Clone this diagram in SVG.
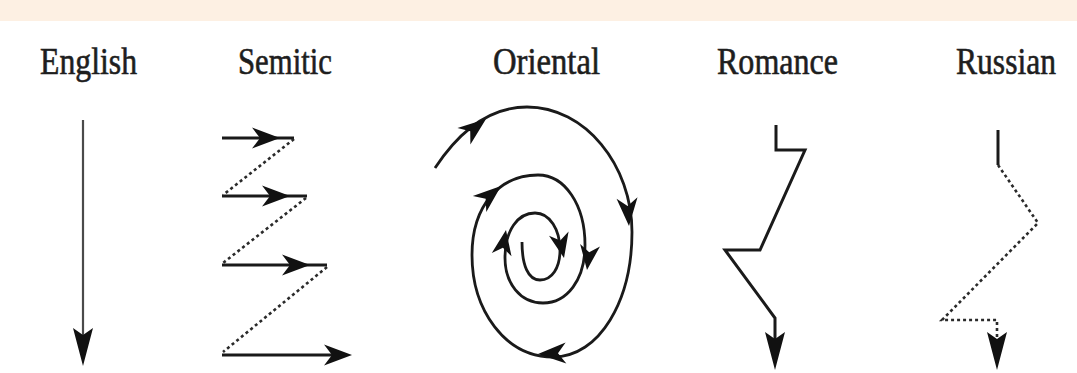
<svg xmlns="http://www.w3.org/2000/svg" xmlns:xlink="http://www.w3.org/1999/xlink" width="1077" height="373" viewBox="0 0 1077 373">
<style>
.lbl{font-family:"Liberation Serif","DejaVu Serif",serif;font-size:37px;fill:#1e1e1e;stroke:#1e1e1e;stroke-width:0.6}
.solid{fill:none;stroke:#1a1a1a;stroke-width:3;stroke-linejoin:miter}
.thin{fill:none;stroke:#4a4a4a;stroke-width:2.2}
.dot{fill:none;stroke:#2a2a2a;stroke-width:2.6;stroke-dasharray:3 3}
.spiral{fill:none;stroke:#1a1a1a;stroke-width:2.8}
.ah{fill:#111}
</style>
<defs>
<path id="ah" d="M0,0 L-28,-10.5 L-20,0 L-28,10.5 Z"/>
<path id="ahs" d="M0,0 L-25,-10 L-18,0 L-25,10 Z"/>
<path id="ahl" d="M0,0 L-38,-10 L-31,0 L-38,10 Z"/>
</defs>
<rect x="0" y="0" width="1077" height="21" fill="#fdf0e3"/>

<g id="english">
<text class="lbl" x="40" y="74" textLength="97" lengthAdjust="spacingAndGlyphs">English</text>
<line class="thin" x1="83" y1="120" x2="83" y2="340"/>
<use href="#ahl" class="ah" transform="translate(83,366) rotate(90)"/>
</g>

<g id="semitic">
<text class="lbl" x="238" y="74" textLength="94" lengthAdjust="spacingAndGlyphs">Semitic</text>
<line class="solid" x1="222" y1="138" x2="294" y2="138"/>
<line class="solid" x1="222" y1="196" x2="307" y2="196"/>
<line class="solid" x1="222" y1="265" x2="327" y2="265"/>
<line class="solid" x1="222" y1="355" x2="335" y2="355"/>
<use href="#ah" class="ah" transform="translate(280,138)"/>
<use href="#ah" class="ah" transform="translate(290,196)"/>
<use href="#ah" class="ah" transform="translate(310,265)"/>
<use href="#ah" class="ah" transform="translate(352,355)"/>
<polyline class="dot" points="294,139 223,195"/>
<polyline class="dot" points="306,198 223,263"/>
<polyline class="dot" points="327,267 223,352"/>
</g>

<g id="oriental">
<text class="lbl" x="493" y="74" textLength="107" lengthAdjust="spacingAndGlyphs">Oriental</text>
<path class="spiral" d="M435,168 C460,130 490,107 527,107 C585,107 632,165 632,232 C632,300 600,357 553,357 C505,357 472,310 472,255 C472,205 500,175 538,175 C565,175 585,205 585,245 C585,280 567,303 543,303 C520,303 505,283 505,258 C505,230 518,213 535,213 C550,213 560,230 560,250 C560,268 552,280 540,280 C528,280 522,265 522,242"/>
<use href="#ah" class="ah" transform="translate(486,119) rotate(-38)"/>
<use href="#ah" class="ah" transform="translate(629,226) rotate(86)"/>
<use href="#ah" class="ah" transform="translate(538,354) rotate(178)"/>
<use href="#ah" class="ah" transform="translate(501,186) rotate(-40)"/>
<use href="#ahs" class="ah" transform="translate(587,270) rotate(97)"/>
<use href="#ahs" class="ah" transform="translate(506,230) rotate(-80)"/>
<use href="#ahs" class="ah" transform="translate(564,258) rotate(78)"/>
</g>

<g id="romance">
<text class="lbl" x="717" y="74" textLength="121" lengthAdjust="spacingAndGlyphs">Romance</text>
<polyline class="solid" points="776,125 776,150 805,150 760,250 725,250 775,318 775,345"/>
<use href="#ahl" class="ah" transform="translate(775,370) rotate(90)"/>
</g>

<g id="russian">
<text class="lbl" x="956" y="74" textLength="100" lengthAdjust="spacingAndGlyphs">Russian</text>
<line class="solid" x1="998" y1="130" x2="998" y2="165"/>
<polyline class="dot" points="998,165 1038,223 942,320 997,320 997,340"/>
<use href="#ahl" class="ah" transform="translate(997,370) rotate(90)"/>
</g>
</svg>
